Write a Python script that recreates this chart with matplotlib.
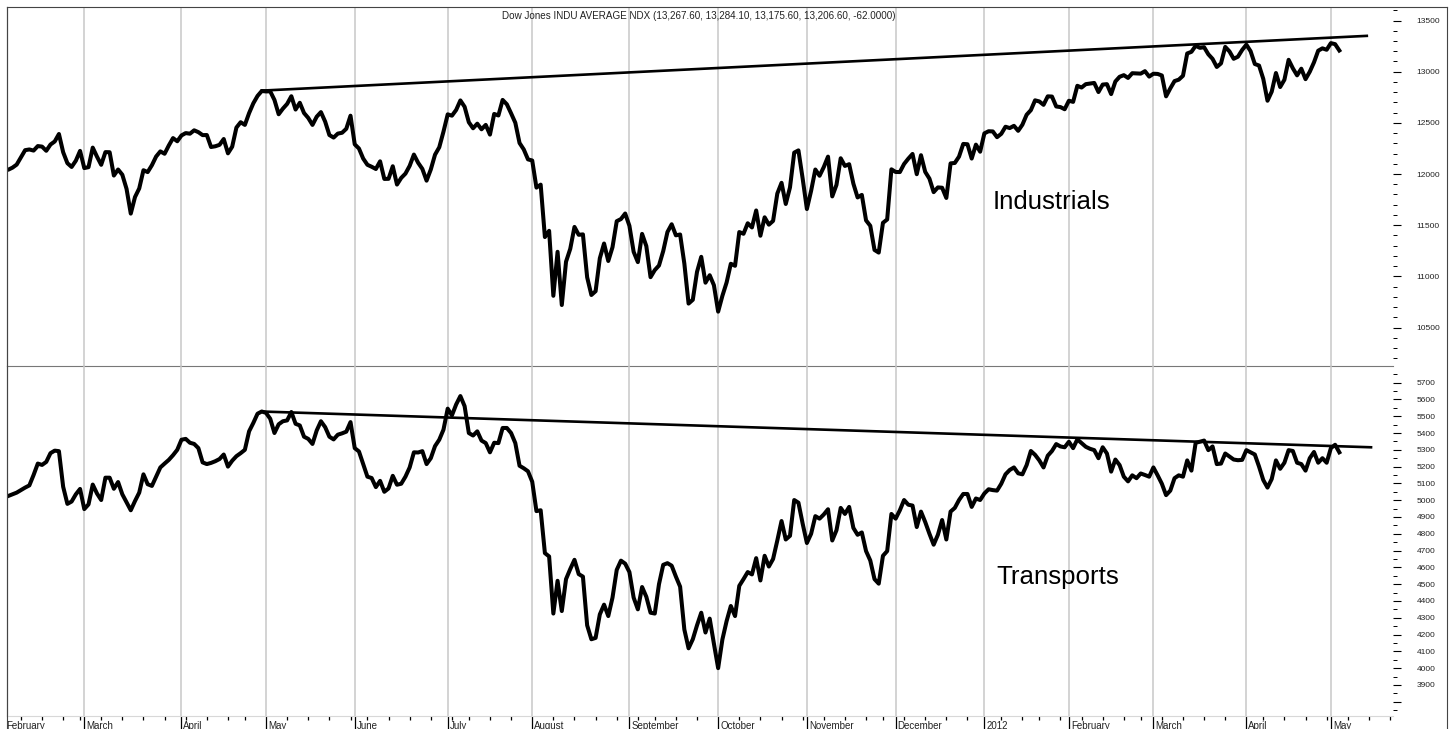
"""
plot_dow_theory.py
Dow Jones Industrials vs Transports, Feb 2011 - May 2012, with trendlines
"""

import matplotlib
matplotlib.use('Agg')
import matplotlib.pyplot as plt
import matplotlib.transforms as mtransforms
from matplotlib.lines import Line2D
import numpy as np
import pandas as pd

plt.rcParams['font.family'] = ['Liberation Sans', 'DejaVu Sans']

## exchange holidays inside the range (no trading)
HOLIDAYS = ['2011-02-21', '2011-04-22', '2011-05-30', '2011-07-04', '2011-09-05',
            '2011-11-24', '2011-12-26', '2012-01-02', '2012-01-16', '2012-02-20',
            '2012-04-06', '2012-05-28']

## Industrials, daily closes per month
INDU_FEB11 = [12040, 12042, 12062, 12092, 12162, 12233, 12240, 12229, 12273, 12268, 12227, 12288, 12318, 12391, 12213, 12106, 12069, 12130, 12226]
INDU_MAR11 = [12058, 12067, 12258, 12170, 12090, 12214, 12213, 11985, 12044, 11993, 11855, 11613, 11775, 11859, 12037, 12019, 12086, 12171, 12221, 12198, 12279, 12351, 12320]
INDU_APR11 = [12377, 12400, 12394, 12427, 12409, 12380, 12381, 12264, 12271, 12285, 12342, 12202, 12267, 12454, 12506, 12480, 12595, 12691, 12763, 12811]
INDU_MAY11 = [12807, 12808, 12724, 12584, 12639, 12685, 12760, 12630, 12696, 12596, 12548, 12480, 12560, 12605, 12512, 12381, 12356, 12395, 12403, 12442, 12570]
INDU_JUN11 = [12290, 12249, 12151, 12090, 12071, 12049, 12124, 11952, 11953, 12076, 11897, 11962, 12004, 12080, 12190, 12110, 12050, 11935, 12044, 12189, 12261, 12414]
INDU_JUL11 = [12583, 12570, 12626, 12719, 12657, 12506, 12447, 12492, 12437, 12480, 12385, 12587, 12572, 12724, 12681, 12593, 12501, 12303, 12240, 12143]
INDU_AUG11 = [12132, 11867, 11896, 11384, 11445, 10810, 11240, 10720, 11143, 11269, 11483, 11406, 11410, 10991, 10818, 10855, 11177, 11321, 11150, 11285, 11539, 11560, 11614]
INDU_SEP11 = [11494, 11240, 11139, 11415, 11296, 10992, 11061, 11106, 11247, 11433, 11509, 11401, 11409, 11125, 10734, 10771, 11044, 11191, 10938, 11011, 10913]
INDU_OCT11 = [10655, 10809, 10940, 11123, 11103, 11433, 11416, 11519, 11478, 11644, 11397, 11577, 11505, 11542, 11809, 11914, 11707, 11869, 12209, 12231, 11955]
INDU_NOV11 = [11658, 11836, 12044, 11983, 12068, 12170, 11781, 11894, 12154, 12079, 12096, 11906, 11771, 11796, 11547, 11494, 11258, 11232, 11523, 11556, 12046]
INDU_DEC11 = [12020, 12019, 12098, 12150, 12196, 11998, 12184, 12021, 11955, 11823, 11869, 11866, 11766, 12104, 12108, 12170, 12294, 12291, 12151, 12287, 12218]
INDU_JAN12 = [12397, 12418, 12416, 12360, 12393, 12462, 12449, 12471, 12422, 12482, 12579, 12624, 12720, 12709, 12676, 12759, 12757, 12660, 12654, 12633]
INDU_FEB12 = [12716, 12705, 12862, 12845, 12878, 12884, 12890, 12801, 12874, 12878, 12781, 12904, 12950, 12966, 12939, 12985, 12983, 12981, 13005, 12952]
INDU_MAR12 = [12980, 12978, 12963, 12759, 12837, 12908, 12922, 12960, 13178, 13194, 13253, 13233, 13239, 13170, 13125, 13046, 13081, 13242, 13198, 13126, 13146, 13212]
INDU_APR12 = [13264, 13200, 13075, 13060, 12930, 12716, 12805, 12987, 12850, 12921, 13116, 13033, 12964, 13029, 12927, 12999, 13091, 13205, 13228, 13214]
INDU_MAY12 = [13279, 13269, 13207]

## Transports, daily closes per month
TRAN_FEB11 = [5015, 5025, 5035, 5045, 5060, 5075, 5088, 5150, 5218, 5210, 5228, 5280, 5295, 5292, 5080, 4978, 4992, 5035, 5067]
TRAN_MAR11 = [4947, 4975, 5093, 5040, 5001, 5134, 5134, 5068, 5108, 5035, 4988, 4940, 4995, 5045, 5154, 5095, 5085, 5140, 5195, 5218, 5240, 5268, 5300]
TRAN_APR11 = [5360, 5365, 5342, 5335, 5310, 5225, 5215, 5222, 5232, 5245, 5272, 5200, 5235, 5262, 5280, 5300, 5410, 5460, 5515, 5528]
TRAN_MAY11 = [5520, 5485, 5400, 5452, 5470, 5475, 5525, 5455, 5445, 5378, 5365, 5335, 5415, 5470, 5435, 5378, 5362, 5390, 5398, 5408, 5465]
TRAN_JUN11 = [5310, 5290, 5215, 5140, 5132, 5078, 5115, 5050, 5070, 5145, 5092, 5098, 5140, 5195, 5285, 5284, 5292, 5215, 5250, 5322, 5360, 5420]
TRAN_JUL11 = [5545, 5505, 5570, 5620, 5560, 5400, 5385, 5410, 5355, 5340, 5285, 5342, 5340, 5430, 5430, 5400, 5340, 5205, 5190, 5172]
TRAN_AUG11 = [5110, 4935, 4940, 4685, 4665, 4325, 4520, 4340, 4530, 4590, 4645, 4560, 4545, 4255, 4172, 4180, 4320, 4378, 4310, 4420, 4585, 4640, 4622]
TRAN_SEP11 = [4572, 4420, 4350, 4483, 4425, 4330, 4325, 4500, 4615, 4625, 4610, 4545, 4485, 4230, 4118, 4172, 4255, 4330, 4212, 4295, 4145]
TRAN_OCT11 = [4000, 4170, 4280, 4370, 4310, 4490, 4530, 4572, 4558, 4655, 4522, 4669, 4605, 4650, 4760, 4876, 4766, 4788, 5001, 4985, 4860]
TRAN_NOV11 = [4745, 4800, 4905, 4890, 4915, 4946, 4760, 4821, 4954, 4918, 4960, 4835, 4794, 4808, 4697, 4641, 4530, 4503, 4669, 4697, 4918]
TRAN_DEC11 = [4890, 4940, 5001, 4973, 4968, 4840, 4932, 4870, 4800, 4735, 4794, 4882, 4766, 4932, 4954, 5001, 5037, 5037, 4960, 5010, 5001]
TRAN_JAN12 = [5040, 5065, 5060, 5057, 5098, 5154, 5180, 5195, 5160, 5154, 5209, 5293, 5270, 5237, 5195, 5265, 5293, 5334, 5320, 5315]
TRAN_FEB12 = [5348, 5310, 5362, 5340, 5318, 5306, 5298, 5250, 5315, 5278, 5170, 5242, 5209, 5140, 5112, 5148, 5131, 5159, 5150, 5140]
TRAN_MAR12 = [5195, 5148, 5098, 5030, 5057, 5131, 5148, 5140, 5237, 5176, 5342, 5348, 5355, 5298, 5320, 5215, 5218, 5278, 5260, 5242, 5238, 5240]
TRAN_APR12 = [5298, 5285, 5272, 5200, 5120, 5075, 5126, 5237, 5187, 5223, 5298, 5293, 5223, 5215, 5176, 5250, 5287, 5223, 5250, 5223]
TRAN_MAY12 = [5310, 5330, 5285]

## trendlines: (trading day index, value) at both ends
TREND_INDU_X = [61, 322.5]
TREND_INDU_Y = [12815, 13350]
TREND_TRAN_X = [61, 323.5]
TREND_TRAN_Y = [5528, 5315]

TITLE = 'Dow Jones INDU AVERAGE NDX (13,267.60, 13,284.10, 13,175.60, 13,206.60, -62.0000)'

W, H = 1452, 729
X_LIM = (0.71, 328.7)


def fx(px):
    return px / W


def fy(py):
    return 1 - py / H


def plot_chart():
    indu = (INDU_FEB11 + INDU_MAR11 + INDU_APR11 + INDU_MAY11 + INDU_JUN11 + INDU_JUL11 +
            INDU_AUG11 + INDU_SEP11 + INDU_OCT11 + INDU_NOV11 + INDU_DEC11 + INDU_JAN12 +
            INDU_FEB12 + INDU_MAR12 + INDU_APR12 + INDU_MAY12)
    tran = (TRAN_FEB11 + TRAN_MAR11 + TRAN_APR11 + TRAN_MAY11 + TRAN_JUN11 + TRAN_JUL11 +
            TRAN_AUG11 + TRAN_SEP11 + TRAN_OCT11 + TRAN_NOV11 + TRAN_DEC11 + TRAN_JAN12 +
            TRAN_FEB12 + TRAN_MAR12 + TRAN_APR12 + TRAN_MAY12)

    # trading calendar, runs past the data to fill the x range
    days = pd.bdate_range('2011-02-01', '2012-06-29', freq='C', holidays=HOLIDAYS)
    x = np.arange(len(indu))

    month_idx, month_lbl, week_idx = [], [], []
    for i, d in enumerate(days):
        if i > X_LIM[1]:
            break
        if i == 0 or d.month != days[i - 1].month:
            month_idx.append(i)
            month_lbl.append(str(d.year) if d.month == 1 else d.strftime('%B'))
        elif d.isocalendar()[1] != days[i - 1].isocalendar()[1]:
            week_idx.append(i)

    fig = plt.figure(figsize=(W / 100, H / 100), dpi=100)
    ax_top = fig.add_axes([fx(7), fy(366), fx(1393) - fx(7), fy(7) - fy(366)])
    ax_bot = fig.add_axes([fx(7), fy(716), fx(1393) - fx(7), fy(366) - fy(716)])

    for ax in (ax_top, ax_bot):
        ax.patch.set_visible(False)
        for i in month_idx:
            ax.axvline(i, color='#c8c8c8', lw=1.1, zorder=0)
        ax.spines['right'].set_visible(False)
        ax.spines['top'].set_visible(False)
        ax.spines['left'].set_color('#444444')
        ax.spines['left'].set_linewidth(0.8)
        ax.yaxis.tick_right()
        ax.tick_params(axis='y', which='major', direction='out', length=5.8, width=0.8,
                       color='black', pad=11, labelsize=6, labelcolor='#222222')
        ax.tick_params(axis='y', which='minor', direction='out', length=2.9, width=0.7,
                       color='black')

    ax_top.spines['bottom'].set_color('#777777')
    ax_top.spines['bottom'].set_linewidth(0.8)
    ax_top.spines['bottom'].set_zorder(5)
    ax_bot.spines['bottom'].set_color('#d8d8d8')
    ax_bot.spines['bottom'].set_linewidth(0.8)

    # series
    ax_top.plot(x, indu, color='black', lw=2.9)
    ax_top.plot(TREND_INDU_X, TREND_INDU_Y, color='black', lw=1.9)
    ax_bot.plot(x, tran, color='black', lw=2.9)
    ax_bot.plot(TREND_TRAN_X, TREND_TRAN_Y, color='black', lw=1.9)

    # y scales
    ax_top.set_ylim(10124, 13632)
    ax_top.set_yticks(np.arange(10500, 13501, 500))
    ax_top.set_yticks(np.arange(10200, 13601, 100), minor=True)
    ax_bot.set_ylim(3715, 5799)
    bot_major = np.arange(3800, 5701, 100)
    ax_bot.set_yticks(bot_major)
    ax_bot.set_yticklabels(['' if v < 3900 else str(v) for v in bot_major])
    ax_bot.set_yticks(np.arange(3750, 5751, 50), minor=True)
    for ax in (ax_top, ax_bot):
        for lbl in ax.get_yticklabels():
            lbl.set_horizontalalignment('left')

    # x ticks: months long, weeks short
    ax_top.set_xticks([])
    ax_bot.set_xticks(month_idx)
    ax_bot.set_xticklabels([])
    ax_bot.set_xticks(week_idx, minor=True)
    ax_bot.tick_params(axis='x', which='major', direction='out', length=9.6, width=0.9,
                       color='black')
    ax_bot.tick_params(axis='x', which='minor', direction='out', length=2.9, width=0.9,
                       color='black')
    for ax in (ax_top, ax_bot):
        ax.set_xlim(*X_LIM)

    trans = (mtransforms.blended_transform_factory(ax_bot.transData, ax_bot.transAxes) +
             mtransforms.ScaledTranslation(2 / 100, -12.6 / 100, fig.dpi_scale_trans))
    for i, lbl in zip(month_idx, month_lbl):
        ax_bot.text(i, 0, lbl, transform=trans, ha='left', va='baseline', fontsize=7,
                    color='#222222', clip_on=False)

    # outer frame
    frame_kw = dict(transform=fig.transFigure, color='#444444', lw=0.8)
    fig.add_artist(Line2D([fx(7), fx(1447)], [fy(7), fy(7)], **frame_kw))
    fig.add_artist(Line2D([fx(1447), fx(1447)], [fy(7), fy(729)], **frame_kw))
    fig.add_artist(Line2D([fx(7), fx(7)], [fy(7), fy(729)], **frame_kw))

    # texts
    fig.text(fx(699), fy(19), TITLE, ha='center', va='baseline', fontsize=7.1, color='#222222')
    fig.text(fx(993), fy(209), 'Industrials', ha='left', va='baseline', fontsize=18.6)
    fig.text(fx(996), fy(584), 'Transports', ha='left', va='baseline', fontsize=18.6)

    fig.savefig('out.png', dpi=100)


if __name__ == '__main__':
    plot_chart()
